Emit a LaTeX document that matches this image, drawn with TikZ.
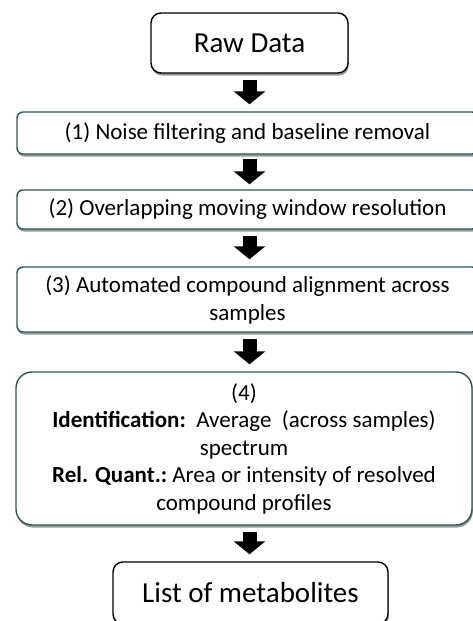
\documentclass[tikz,border=0pt]{standalone}
\usepackage{fontspec}
\setmainfont{Carlito}
\usetikzlibrary{shadows,arrows.meta}
\definecolor{boxedge}{HTML}{2F5656}
\tikzset{
  softshadow/.style={drop shadow={shadow xshift=0.8pt, shadow yshift=-2.5pt, fill=black, opacity=0.4}},
  endbox/.style={draw=black, line width=1.4pt, rounded corners=10pt, fill=white, softshadow,
    font=\fontsize{29}{34}\selectfont, inner sep=0pt},
  stepbox/.style={draw=boxedge, line width=1.4pt, rounded corners=6pt, fill=white, softshadow,
    font=\fontsize{23}{28}\selectfont, align=center, inner sep=0pt},
  flow/.style={line width=14pt, -{Triangle[width=31pt,length=13pt]}, shorten <=6pt, shorten >=7pt},
}
\begin{document}
\begin{tikzpicture}[x=1pt,y=-1pt]
\useasboundingbox (0,0) rectangle (473,621);
\clip (0,0) rectangle (473,621);

% start and end of the workflow
\node[endbox, minimum width=197pt, minimum height=60pt] (raw) at (249.5,43) {Raw Data};
\node[endbox, minimum width=275pt, minimum height=62pt] (list) at (250.5,593) {List of metabolites};

% processing steps
\node[stepbox, minimum width=461pt, minimum height=42pt] (s1) at (247.5,133)
  {(1) Noise filtering and baseline removal};
\node[stepbox, minimum width=461pt, minimum height=39pt] (s2) at (247.5,209.5)
  {(2) Overlapping moving window resolution};
\node[stepbox, minimum width=461pt, minimum height=65pt] (s3) at (247.5,299.5)
  {(3) Automated compound alignment across\\ samples};
\node[stepbox, rounded corners=16pt, minimum width=456pt, minimum height=153pt,
  font=\fontsize{23}{27.5}\selectfont] (s4) at (244,448.5)
  {(4)\\
   \textbf{Identification:}\ \ Average\ \ (across samples)\\
   spectrum\\
   \textbf{Rel. Quant.:}\ Area or intensity of resolved\\
   compound profiles};

% block arrows between the stages
\draw[flow] (raw.south) -- (raw.south |- s1.north);
\draw[flow, shorten <=4pt, shorten >=5pt] (s1.south -| raw.south) -- (s2.north -| raw.south);
\draw[flow] (s2.south -| raw.south) -- (s3.north -| raw.south);
\draw[flow] (s3.south -| raw.south) -- (s4.north -| raw.south);
\draw[flow] (s4.south -| raw.south) -- (list.north -| raw.south);
\end{tikzpicture}
\end{document}
